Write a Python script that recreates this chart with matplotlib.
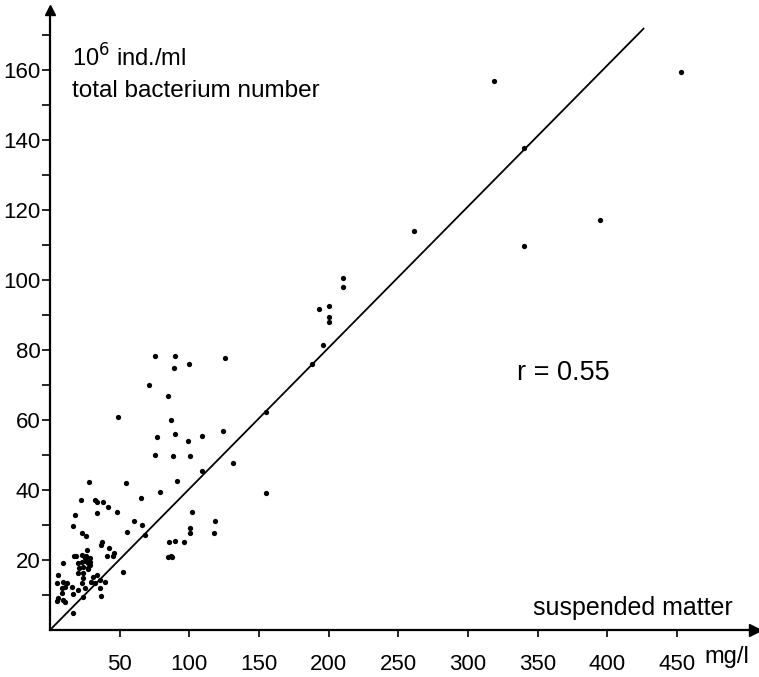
import numpy as np
import matplotlib
matplotlib.use("Agg")
import matplotlib.pyplot as plt

# suspended matter (mg/l) and total bacterium number (10^6 ind./ml)
susp = [319, 453, 340, 261, 395, 340, 210, 210, 193, 200, 200, 200, 196, 188, 155, 155,
        75.5, 89.7, 88.7, 99.5, 125.8, 71, 85, 48.8, 87, 76.5, 89.7, 99, 109, 124.3,
        75.5, 88, 100.4, 131, 108.8, 27.8, 54.5, 91.3, 78.7, 65, 22.2, 32.5, 33.5, 38.3,
        41.6, 33.9, 47.8, 17.9, 101.6, 16.2, 60.3, 66.2, 100.4, 100.4, 118.6, 117.8,
        55.3, 68.5, 85.6, 89.4, 95.9, 84.4, 86.6, 87.8,
        23.2, 25.8, 26.3, 37.5, 36.4, 42.3, 46.1, 45.4, 41.1, 17.2, 9.1,
        19, 23, 26, 29, 20, 23, 26, 29, 24, 27, 21, 29, 25, 27,
        27, 23.9, 19.9, 52.1, 33.5, 30.6, 35.9, 39.5, 32.3, 29.4, 23.9, 22.7, 6, 4.8,
        9.6, 12, 10.8, 8.4, 15.5, 20.3, 25.1, 35.9, 36.6, 8.4, 6, 4.8, 9.6, 10.8, 16.2,
        23.5, 16.7]
bact = [156.6, 159.4, 137.7, 114, 117, 109.5, 100.5, 98, 91.7, 92.4, 89.3, 88, 81.3, 75.9, 62.2, 39.2,
        78.1, 78.1, 74.8, 75.9, 77.7, 70, 66.9, 60.8, 59.9, 55.1, 55.9, 54, 55.4, 56.9,
        50, 49.8, 49.7, 47.8, 45.5, 42.2, 42, 42.4, 39.4, 37.8, 37.1, 37.1, 36.4, 36.4,
        35, 33.5, 33.6, 32.7, 33.6, 29.8, 31, 30.1, 29.1, 27.6, 31, 27.7,
        28, 27.1, 25.2, 25.4, 25, 20.9, 21.1, 20.9,
        27.8, 26.9, 22.9, 25.2, 24.3, 23.3, 21.9, 21.1, 21.1, 21.1, 19,
        21, 21.5, 21, 20.5, 19, 19.5, 19.8, 19.5, 18, 17.5, 17.8, 18.5, 20.5, 19,
        17.6, 16.2, 16.2, 16.7, 15.7, 15.2, 14.3, 13.8, 13.3, 13.6, 14.8, 13.3, 15.7, 13.3,
        13.8, 13.3, 12.4, 11.9, 12.4, 11.4, 11.9, 11.9, 9.7, 10.5, 9, 8.4, 8.6, 8.1, 10.3,
        9.3, 4.8]

# regression line as drawn
line_x = [0, 426]
line_slope = 0.403

x_ticks = [50, 100, 150, 200, 250, 300, 350, 400, 450]
y_ticks = [20, 40, 60, 80, 100, 120, 140, 160]
y_minor = [10, 30, 50, 70, 90, 110, 130, 150, 170]

font = ['Liberation Sans', 'DejaVu Sans']

fig = plt.figure(figsize=(7.59, 6.77), dpi=100)
ax = fig.add_axes([50 / 759, 47 / 677, 705 / 759, 620 / 677])
ax.set_xlim(0, 506)
ax.set_ylim(0, 177)

for s in ['top', 'right']:
    ax.spines[s].set_visible(False)
for s in ['left', 'bottom']:
    ax.spines[s].set_linewidth(1.6)

# arrow heads at the ends of the axes
ax.plot(1, 0, '>k', ms=9, transform=ax.get_yaxis_transform(), clip_on=False)
ax.plot(0, 1, '^k', ms=7, transform=ax.get_xaxis_transform(), clip_on=False)

ax.plot(susp, bact, 'o', color='black', ms=3.8, mec='none')
lx = np.array(line_x)
ax.plot(lx, line_slope * lx, color='black', lw=1.3)

ax.set_xticks(x_ticks)
ax.set_xticklabels([str(v) for v in x_ticks], family=font, fontsize=16)
ax.set_yticks(y_ticks)
ax.set_yticklabels([str(v) for v in y_ticks], family=font, fontsize=16)
ax.set_yticks(y_minor, minor=True)
ax.tick_params(axis='x', which='both', direction='out', length=5, width=1.2, pad=12)
ax.tick_params(axis='y', which='both', direction='out', length=6, width=1.2, pad=1)

ax.text(470, -16 / 620, 'mg/l', transform=ax.get_xaxis_transform(), family=font,
        fontsize=17, ha='left', va='top')

ax.text(15.8, 160.9, '10$^6$ ind./ml', family=font, fontsize=17, va='baseline')
ax.text(15.8, 152.3, 'total bacterium number', family=font, fontsize=17.5, va='baseline')
ax.text(335, 71.4, 'r = 0.55', family=font, fontsize=19.5, va='baseline')
ax.text(346.5, 4.3, 'suspended matter', family=font, fontsize=18, va='baseline')

fig.savefig('out.png', dpi=100)
